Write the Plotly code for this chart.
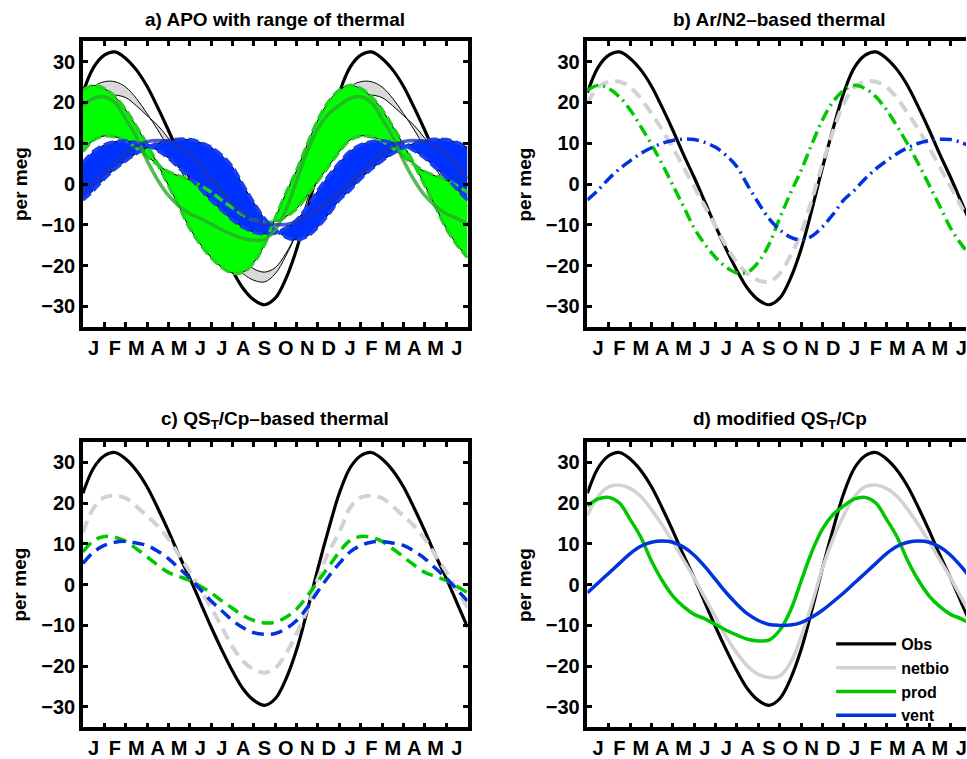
import plotly.graph_objects as go

# ---------------- data ----------------
MONTHS = ["J", "F", "M", "A", "M", "J", "J", "A", "S", "O", "N", "D",
          "J", "F", "M", "A", "M", "J"]
YTICKS = [-30, -20, -10, 0, 10, 20, 30]

# seasonal cycles in per meg, half-month steps from 1 Jan (x = 0, 0.5, ... 11.5 months)
OBS = [22.4, 28.6, 31.6, 32.4, 30.8, 28.0, 24.0, 18.8, 13.2, 7.2, 1.6, -4.4,
       -10.4, -16.0, -21.2, -25.6, -28.4, -29.6, -28.0, -23.2, -16.0, -6.4, 4.0, 13.6]
# b) Ar/N2-based thermal
NETBIO_AR = [19.8, 23.8, 25.1, 25.1, 23.8, 21.0, 17.3, 13.3, 8.9, 4.1, -0.7, -5.5,
             -10.4, -15.2, -19.2, -22.0, -23.6, -24.0, -22.0, -17.6, -12.0, -3.9, 4.9, 12.9]
PROD_AR = [23.0, 24.2, 23.4, 21.4, 18.2, 14.1, 9.7, 4.9, -0.3, -5.5, -10.8, -14.8,
           -18.0, -20.4, -21.8, -21.6, -19.2, -14.8, -8.4, -2.3, 3.3, 9.7, 15.7, 20.2]
VENT_AR = [-3.9, -1.5, 1.3, 3.7, 5.7, 7.5, 8.9, 10.0, 10.7, 11.0, 10.9, 10.2,
           9.0, 7.0, 4.2, -0.3, -4.6, -8.5, -11.2, -13.0, -13.7, -12.8, -10.5, -7.4]
# c) QS_T/Cp-based thermal
NETBIO_QS = [12.8, 18.8, 21.4, 21.8, 21.2, 19.2, 16.8, 14.4, 11.2, 7.2, 3.2, -1.2,
             -5.6, -10.4, -15.2, -18.8, -20.8, -21.6, -20.5, -17.0, -12.0, -6.0, 1.5, 8.0]
PROD_QS = [8.0, 10.8, 11.8, 11.6, 10.6, 8.8, 6.8, 4.8, 3.0, 2.0, 1.0, -0.4,
           -2.0, -4.0, -5.8, -7.6, -8.8, -9.4, -9.2, -8.0, -6.0, -2.8, 0.8, 4.4]
VENT_QS = [5.2, 8.0, 9.6, 10.4, 10.6, 10.2, 9.6, 8.2, 6.4, 4.0, 1.6, -1.2,
           -4.0, -6.4, -8.8, -10.6, -11.8, -12.2, -12.0, -10.8, -8.8, -5.6, -1.6, 2.0]
# d) modified QS_T/Cp
NETBIO_MOD = [17.0, 21.6, 24.0, 24.4, 23.6, 21.6, 18.4, 14.6, 10.4, 6.0, 1.6, -3.2,
              -8.0, -12.8, -16.8, -20.0, -22.0, -22.8, -22.4, -19.2, -12.8, -4.8, 4.0, 11.2]
PROD_MOD = [19.3, 21.0, 21.4, 20.0, 16.0, 11.6, 5.8, 1.0, -2.8, -5.4, -7.3, -8.4,
            -9.8, -11.2, -12.4, -13.4, -13.8, -13.6, -11.2, -6.4, 0.8, 8.0, 13.6, 17.2]
VENT_MOD = [-2.0, 0.4, 2.8, 5.2, 7.6, 9.4, 10.4, 10.7, 10.4, 9.2, 7.2, 4.4,
            1.2, -2.0, -4.8, -7.2, -8.8, -9.8, -10.0, -9.9, -9.3, -8.0, -6.3, -4.2]

TITLES = ["a) APO with range of thermal", "b) Ar/N2–based thermal",
          "c) QS<sub>T</sub>/Cp–based thermal", "d) modified QS<sub>T</sub>/Cp"]

# the figure shows 18 months: the 12-month cycle followed by its first 6 months again
NPTS = 37
X = [i * 0.5 for i in range(NPTS)]


def show18(cycle):
    return (cycle + cycle)[:NPTS]


# ---------------- styling ----------------
FONT = "Liberation Sans, Arial, Helvetica, sans-serif"
BLACK = "#000000"
GREY = "#d2d2d2"
GREEN = "#00c800"
BLUE = "#0033dd"
GREEN_FILL = "#00ff00"
BLUE_FILL = "#0033ff"
GREY_FILL = "#d9d9d9"

W, H = 967, 759
# plot-area pixel boxes (left, top, right, bottom)
BOX = {1: (83, 42, 468, 332), 2: (588, 42, 973, 332),
       3: (83, 449, 468, 739), 4: (588, 449, 973, 739)}

fig = go.Figure()


def ax_ids(k):
    return ("x" if k == 1 else f"x{k}"), ("y" if k == 1 else f"y{k}")


def line(k, y, color, width, dash="solid", name=None, legend=False, opacity=1.0):
    xa, ya = ax_ids(k)
    fig.add_trace(go.Scatter(
        x=X, y=show18(y), xaxis=xa, yaxis=ya, mode="lines",
        line=dict(color=color, width=width, dash=dash, shape="spline", smoothing=1.0),
        name=name, showlegend=legend, opacity=opacity, hoverinfo="skip"))


def band(k, upper, lower, fillcolor):
    xa, ya = ax_ids(k)
    fig.add_trace(go.Scatter(
        x=X + X[::-1], y=show18(upper) + show18(lower)[::-1], xaxis=xa, yaxis=ya,
        mode="lines", fill="toself", fillcolor=fillcolor,
        line=dict(width=0), showlegend=False, hoverinfo="skip"))
    line(k, upper, BLACK, 1)
    line(k, lower, BLACK, 1)


# a) range of thermal
band(1, NETBIO_AR, NETBIO_QS, GREY_FILL)
line(1, OBS, BLACK, 3.2)
band(1, PROD_AR, PROD_QS, GREEN_FILL)
band(1, VENT_AR, VENT_QS, BLUE_FILL)
line(1, PROD_QS, "#22d022", 3.5, dash="10px,4px")
line(1, PROD_AR, "#22d022", 3.5, dash="10px,4px")
line(1, VENT_QS, "#1a40ee", 3.5, dash="10px,4px")
line(1, VENT_AR, "#1a40ee", 3.5, dash="10px,4px")
line(1, PROD_MOD, "#2fa82f", 3.5, opacity=0.8)
line(1, VENT_MOD, "#1f35b8", 3.5, opacity=0.8)

# b) Ar/N2-based
DASHDOT = "12px,5px,2px,5px"
line(2, OBS, BLACK, 3.2)
line(2, NETBIO_AR, GREY, 4, dash="12px,7px")
line(2, PROD_AR, GREEN, 3.5, dash=DASHDOT)
line(2, VENT_AR, BLUE, 3.5, dash=DASHDOT)

# c) QS_T/Cp-based
line(3, OBS, BLACK, 3.2)
line(3, NETBIO_QS, GREY, 4, dash="12px,7px")
line(3, PROD_QS, GREEN, 3.5, dash="12px,7px")
line(3, VENT_QS, BLUE, 3.5, dash="12px,7px")

# d) modified QS_T/Cp
line(4, OBS, BLACK, 3.2, name="Obs", legend=True)
line(4, NETBIO_MOD, GREY, 3.5, name="netbio", legend=True)
line(4, PROD_MOD, GREEN, 3.5, name="prod", legend=True)
line(4, VENT_MOD, BLUE, 3.5, name="vent", legend=True)

# ---------------- axes ----------------
layout = dict(width=W, height=H, margin=dict(l=0, r=0, t=0, b=0),
              paper_bgcolor="white", plot_bgcolor="white",
              font=dict(family=FONT, size=19, color=BLACK, weight="bold"),
              showlegend=True)
TICKFONT = dict(family=FONT, size=20, color=BLACK, weight="bold")
TFONT = dict(family=FONT, size=19, color=BLACK, weight="bold")
annotations = []
for k in range(1, 5):
    l, t, r, b = BOX[k]
    xdom = [l / W, min(r, W) / W]
    ydom = [1 - b / H, 1 - t / H]
    xmax = 18 * (min(r, W) - l) / (r - l)
    xa, ya = ax_ids(k)
    full = r <= W
    xkey = "xaxis" if k == 1 else f"xaxis{k}"
    ykey = "yaxis" if k == 1 else f"yaxis{k}"
    layout[xkey] = dict(
        domain=xdom, range=[0, xmax], anchor=ya, showgrid=False, zeroline=False,
        showline=True, linecolor=BLACK, linewidth=3.5, mirror="ticks",
        tickmode="array", tickvals=[i + 0.5 for i in range(len(MONTHS))],
        ticktext=MONTHS, ticks="", tickfont=TICKFONT, ticklabeloverflow="allow",
        minor=dict(tickmode="array", tickvals=list(range(1, 18)), ticks="inside",
                   ticklen=5, tickwidth=2.5, tickcolor=BLACK, showgrid=False))
    layout[ykey] = dict(
        domain=ydom, range=[-35, 35], anchor=xa, showgrid=False, zeroline=False,
        showline=True, linecolor=BLACK, linewidth=3.5,
        mirror="ticks" if full else False,
        tickmode="array", tickvals=YTICKS, ticks="inside", ticklen=5, tickwidth=2.5,
        tickcolor=BLACK, tickfont=TICKFONT)
    # panel title and y label
    tx = ((l + r) / 2) / W
    annotations.append(dict(text=TITLES[k - 1], x=tx, y=1 - (t - 22) / H,
                            xref="paper", yref="paper", showarrow=False,
                            xanchor="center", yanchor="middle", font=TFONT))
    annotations.append(dict(text="per meg", x=(l - 63) / W, y=1 - ((t + b) / 2) / H,
                            xref="paper", yref="paper", showarrow=False, textangle=-90,
                            xanchor="center", yanchor="middle", font=TFONT))

layout["annotations"] = annotations
layout["legend"] = dict(x=832 / W, y=1 - 637 / H, xanchor="left", yanchor="top",
                        bgcolor="rgba(0,0,0,0)", borderwidth=0, itemwidth=60,
                        font=dict(family=FONT, size=16, color=BLACK, weight="bold"),
                        tracegroupgap=0)
fig.update_layout(**layout)
fig.write_html("out.html")
